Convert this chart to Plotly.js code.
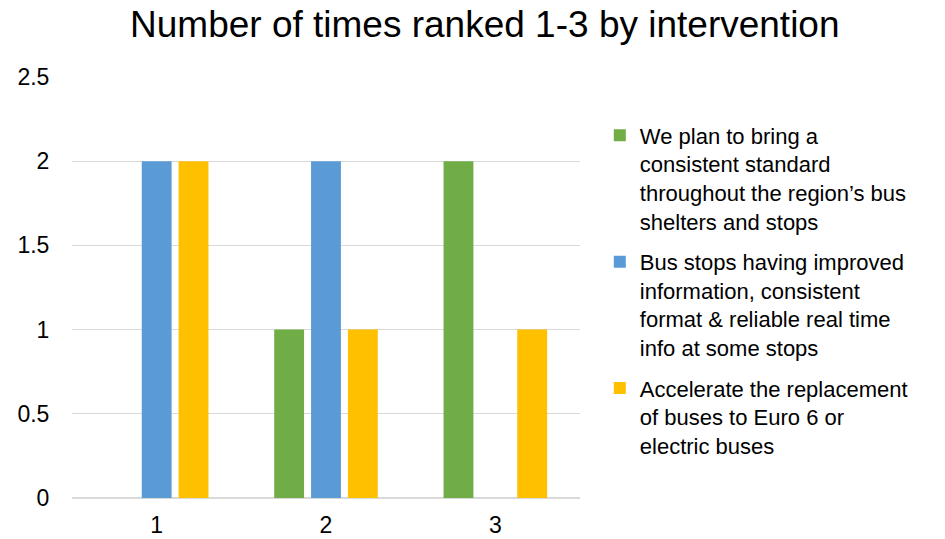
<!DOCTYPE html>
<html>
<head>
<meta charset="utf-8">
<script src="https://cdn.plot.ly/plotly-3.0.1.min.js"></script>
<style>html,body{margin:0;padding:0;background:#fff;}#chart{width:945px;height:539px;}</style>
</head>
<body>
<div id="chart"></div>
<script>
const categories = ['1', '2', '3'];
const seriesNames = [
  'We plan to bring a<br>consistent standard<br>throughout the region\u2019s bus<br>shelters and stops',
  'Bus stops having improved<br>information, consistent<br>format & reliable real time<br>info at some stops',
  'Accelerate the replacement<br>of buses to Euro 6 or<br>electric buses'
];
const shelters = [0, 1, 2];
const information = [2, 2, 0];
const replacement = [2, 1, 1];
const colors = ['#70AD47', '#5B9BD5', '#FFC000'];
const yTicks = [0, 0.5, 1, 1.5, 2, 2.5];

const values = [shelters, information, replacement];
const data = values.map((v, i) => ({
  type: 'bar',
  x: categories,
  y: v,
  name: seriesNames[i],
  legendgroup: 'g' + i,
  marker: {color: colors[i]},
  hoverinfo: 'y'
}));

const font = 'Liberation Sans, Arial, sans-serif';
const layout = {
  width: 945, height: 539,
  margin: {l: 72, r: 365, t: 77, b: 41},
  paper_bgcolor: '#fff', plot_bgcolor: '#fff',
  font: {family: font, size: 22, color: '#000'},
  title: {text: 'Number of times ranked 1-3 by intervention', font: {family: font, size: 37, color: '#000'},
          x: 0.513, xanchor: 'center', y: 0.955, yanchor: 'middle'},
  barmode: 'group',
  bargap: 0.347,
  bargroupgap: 0.19,
  xaxis: {type: 'category', showgrid: false, zeroline: false, showline: false,
          ticks: 'outside', ticklen: 6, tickcolor: 'rgba(0,0,0,0)',
          tickfont: {family: font, size: 23, color: '#000'}},
  yaxis: {range: [0, 2.5], tickvals: yTicks, ticktext: yTicks.map(String),
          showgrid: true, gridcolor: '#D9D9D9', gridwidth: 1.3, zeroline: true, zerolinecolor: '#D9D9D9', zerolinewidth: 1.3,
          showline: false, ticks: 'outside', ticklen: 17, tickcolor: 'rgba(0,0,0,0)',
          tickfont: {family: font, size: 23, color: '#000'}},
  showlegend: true,
  legend: {x: 1.039, xanchor: 'left', y: 0.911, yanchor: 'top', traceorder: 'grouped', tracegroupgap: 9,
           valign: 'top', font: {family: font, size: 22, color: '#000'}, bgcolor: 'rgba(0,0,0,0)'}
};

Plotly.newPlot('chart', data, layout, {displayModeBar: false, staticPlot: true});
</script>
</body>
</html>
